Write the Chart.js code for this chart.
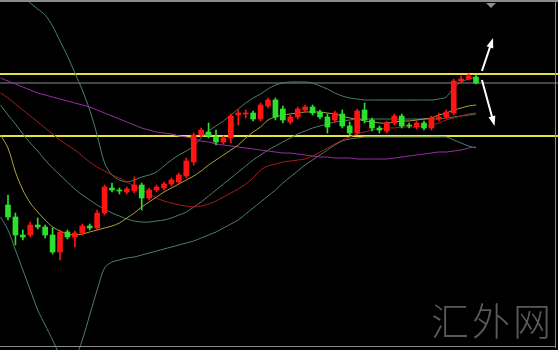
<!DOCTYPE html>
<html>
<head>
<meta charset="utf-8">
<script src="https://cdn.jsdelivr.net/npm/chart.js@4.4.1/dist/chart.umd.min.js"></script>
<style>
  html, body { margin: 0; background: #000; }
  #wrap { position: relative; width: 558px; height: 350px; }
  #mark { position: absolute; left: 431px; top: 291px; font: 300 38px "Noto Sans CJK SC"; color: #5a5a5a; letter-spacing: 3px; }
</style>
</head>
<body>
<div id="wrap">
  <canvas id="chart" width="558" height="350"></canvas>
  <div id="mark">汇外网</div>
</div>
<script>
// price levels, counted downward (the y axis is reversed)
const open  = [205,217,235,235,225,227,235,252,232,237,233,226,228,213,188,190,192,191,185,198,190,188,184,182,176,162,135,132,137,142,138,115,114,113,119,106,100,109,122,117,110,107,112,117,120,114,126,133,110,120,128,131,123,116,125,127,123,128,119,117,113,81,79,77];
const high  = [195,213,230,222,218,225,228,230,230,231,224,224,210,185,183,188,187,177,183,188,185,182,178,173,158,133,128,123,130,136,114,110,110,111,103,98,98,106,115,107,105,105,110,114,111,110,122,109,103,118,126,121,114,114,123,121,121,116,113,110,79,76,74,75];
const low   = [220,245,240,237,229,238,254,260,239,247,235,230,230,215,192,194,194,193,210,200,192,190,186,184,178,165,137,138,145,144,143,125,118,121,121,108,120,123,124,119,112,115,119,133,122,128,135,135,123,131,133,133,125,128,128,129,130,130,121,119,115,83,80,84];
const close = [217,235,237,225,227,235,252,232,237,233,226,228,213,187,190,191,189,185,198,190,187,184,180,175,161,135,130,136,142,138,116,113,113,119,105,100,117,120,117,109,107,113,117,127,113,126,133,111,120,128,130,123,116,126,126,123,128,118,117,112,81,79,76,83];

// indicator lines, one point per bar plus one at the left edge
const bandUpper = [-25,-18,-11,-4,3,9,15,26,41,56,73,90,110,135,163,175,180,182,180,177,175,172,166,160,155,151,146,138,131,126,121,115,109,103,98,94,89,85,83,82,82,82,83,86,89,93,96,98,99,100,100,100,100,100,100,100,100,100,100,99,97,88,82,79,77];
const bandMid   = [105,115,124,134,143,151,160,168,175,182,189,195,200,205,209,213,216,219,221,222,222,221,220,218,215,212,207,202,196,190,184,178,172,166,160,155,150,146,142,138,134,131,128,126,124,122,121,120,119,119,119,119,119,119,119,119,119,119,119,119,118,117,116,115,114];
const bandLower = [217,230,250,270,290,310,325,340,355,362,358,340,315,290,268,262,260,258,257,255,253,251,249,247,245,243,241,238,235,232,228,224,220,214,208,202,196,190,183,177,171,165,160,155,150,145,141,139,138,137,137,137,137,137,137,137,137,137,137,137,137,140,143,146,148];
const maRed     = [93,98,104,110,116,122,128,134,140,145,150,156,162,167,171,175,178,182,186,190,194,198,201,203,205,206,207,206,204,201,197,193,189,184,178,170,166,164,162,161,160,159,156,152,148,144,140,137,134,132,130,129,128,128,127,127,127,126,125,123,120,118,116,114,113];
const maPurple  = [78,81,84,87,90,93,95,97,99,101,103,105,107,110,113,116,119,122,125,128,130,132,133,134,136,137,139,141,142,144,145,146,147,148,149,150,151,152,153,153,154,155,156,157,157,158,158,158,159,159,159,159,159,158,157,156,155,154,153,152,152,151,150,148,147];
const maOlive   = [135,148,172,190,203,212,220,227,231,234,235,234,232,230,228,226,223,218,213,207,202,197,192,188,184,180,176,171,165,160,155,150,145,138,132,127,120,117,115,114,113,112,112,112,113,114,116,118,119,121,122,123,123,122,121,121,120,119,118,115,113,110,108,106,105];

const yellowLevels = [74, 136];
const grayLevels = [83];
// hand-drawn arrows: [bar from, level from, bar to, level to]
const arrows = [[64.8, 71, 66.3, 38], [64.8, 80, 66.5, 126]];

const bars = open.map((o, i) => i + 1);
const isUp = open.map((o, i) => close[i] < o);
const candleColors = isUp.map(u => u ? '#ff1414' : '#2ee02e');
const linePts = arr => arr.map((v, k) => ({ x: k, y: v }));
const flat = v => [{ x: -2, y: v }, { x: 80, y: v }];

const lineDs = (data, color, order) => ({
  type: 'line', data: linePts(data), borderColor: color, borderWidth: 1,
  pointRadius: 0, tension: 0.3, order
});

const extras = {
  id: 'extras',
  afterDatasetsDraw(chart) {
    const { ctx, scales: { x, y } } = chart;
    ctx.save();
    ctx.strokeStyle = '#fff';
    ctx.fillStyle = '#fff';
    ctx.lineWidth = 2;
    arrows.forEach(a => {
      const x0 = x.getPixelForValue(a[0]), y0 = y.getPixelForValue(a[1]);
      const x1 = x.getPixelForValue(a[2]), y1 = y.getPixelForValue(a[3]);
      const ang = Math.atan2(y1 - y0, x1 - x0);
      ctx.beginPath();
      ctx.moveTo(x0, y0);
      ctx.lineTo(x1 - 6 * Math.cos(ang), y1 - 6 * Math.sin(ang));
      ctx.stroke();
      ctx.beginPath();
      ctx.moveTo(x1, y1);
      ctx.lineTo(x1 - 10 * Math.cos(ang) + 3.5 * Math.sin(ang), y1 - 10 * Math.sin(ang) - 3.5 * Math.cos(ang));
      ctx.lineTo(x1 - 10 * Math.cos(ang) - 3.5 * Math.sin(ang), y1 - 10 * Math.sin(ang) + 3.5 * Math.cos(ang));
      ctx.closePath();
      ctx.fill();
    });
    // frame and scroll marker
    ctx.fillStyle = '#8c8c8c';
    ctx.fillRect(0, 0, 558, 2);
    ctx.fillRect(555, 0, 1, 348);
    ctx.fillRect(0, 346, 556, 1);
    ctx.beginPath();
    ctx.moveTo(486, 3);
    ctx.lineTo(496, 3);
    ctx.lineTo(491, 8);
    ctx.closePath();
    ctx.fill();
    ctx.restore();
  }
};

new Chart(document.getElementById('chart'), {
  type: 'bar',
  data: {
    datasets: [
      {
        data: bars.map((b, i) => ({ x: b, y: [high[i], low[i]] })),
        backgroundColor: candleColors, barThickness: 1, grouped: false, order: 1
      },
      {
        data: bars.map((b, i) => ({ x: b, y: [open[i], close[i]] })),
        backgroundColor: candleColors, barThickness: 5, minBarLength: 1, grouped: false, order: 0
      },
      lineDs(bandUpper, '#4d7f6c', 5),
      lineDs(bandMid, '#4d7f6c', 5),
      lineDs(bandLower, '#4d7f6c', 5),
      lineDs(maRed, '#a61e1e', 4),
      lineDs(maPurple, '#9a2fa8', 4),
      lineDs(maOlive, '#b0a43c', 3),
      ...yellowLevels.map(v => ({ type: 'line', data: flat(v), borderColor: '#e6e23c', borderWidth: 2, pointRadius: 0, order: 6 })),
      ...grayLevels.map(v => ({ type: 'line', data: flat(v), borderColor: '#8a8a8a', borderWidth: 1, pointRadius: 0, order: 6 }))
    ]
  },
  options: {
    responsive: false,
    animation: false,
    devicePixelRatio: 1,
    layout: { padding: 0 },
    plugins: { legend: { display: false }, tooltip: { enabled: false } },
    scales: {
      x: { type: 'linear', min: -0.077, max: 75.04, offset: false, display: false },
      y: { min: 0, max: 350, reverse: true, display: false }
    }
  },
  plugins: [extras]
});
</script>
</body>
</html>
